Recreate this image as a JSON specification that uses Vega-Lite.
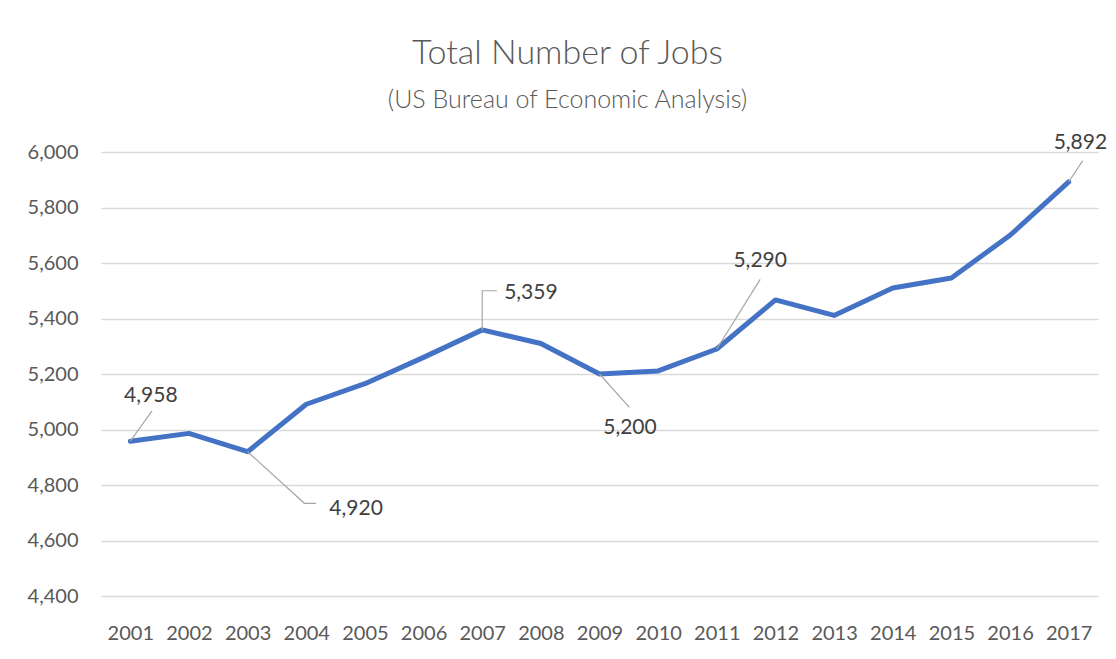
{
  "$schema": "https://vega.github.io/schema/vega-lite/v6.json",
  "autosize": {"type": "none"},
  "width": 997,
  "height": 444,
  "padding": {"left": 101, "top": 152, "right": 18, "bottom": 63},
  "background": "white",
  "config": {
    "font": "Lato",
    "view": {"stroke": null}
  },
  "title": {
    "text": "Total Number of Jobs",
    "subtitle": "(US Bureau of Economic Analysis)",
    "anchor": "middle",
    "dx": -32,
    "fontSize": 34,
    "fontWeight": 300,
    "font": "Lato",
    "color": "#595959",
    "subtitleFontSize": 25,
    "subtitleFontWeight": 300,
    "subtitleFont": "Lato",
    "subtitleColor": "#595959",
    "subtitlePadding": 17,
    "offset": 19
  },
  "datasets": {
    "jobs": [
      {"year": 2001, "jobs": 4958},
      {"year": 2002, "jobs": 4986},
      {"year": 2003, "jobs": 4920},
      {"year": 2004, "jobs": 5091},
      {"year": 2005, "jobs": 5165},
      {"year": 2006, "jobs": 5260},
      {"year": 2007, "jobs": 5359},
      {"year": 2008, "jobs": 5310},
      {"year": 2009, "jobs": 5200},
      {"year": 2010, "jobs": 5211},
      {"year": 2011, "jobs": 5290},
      {"year": 2012, "jobs": 5467},
      {"year": 2013, "jobs": 5411},
      {"year": 2014, "jobs": 5510},
      {"year": 2015, "jobs": 5546},
      {"year": 2016, "jobs": 5700},
      {"year": 2017, "jobs": 5892}
    ],
    "labels": [
      {"x": 2001.35, "y": 5121, "label": "4,958"},
      {"x": 2004.85, "y": 4713, "label": "4,920"},
      {"x": 2007.83, "y": 5492, "label": "5,359"},
      {"x": 2009.52, "y": 5005, "label": "5,200"},
      {"x": 2011.74, "y": 5607, "label": "5,290"},
      {"x": 2017.2, "y": 6032, "label": "5,892"}
    ],
    "leaders": [
      {"id": "a", "seq": 1, "x": 2001, "y": 4958},
      {"id": "a", "seq": 2, "x": 2001.37, "y": 5067},
      {"id": "b", "seq": 1, "x": 2003, "y": 4920},
      {"id": "b", "seq": 2, "x": 2003.968, "y": 4734},
      {"id": "b", "seq": 3, "x": 2004.167, "y": 4734},
      {"id": "c", "seq": 1, "x": 2007, "y": 5359},
      {"id": "c", "seq": 2, "x": 2007, "y": 5500},
      {"id": "c", "seq": 3, "x": 2007.25, "y": 5500},
      {"id": "d", "seq": 1, "x": 2009, "y": 5200},
      {"id": "d", "seq": 2, "x": 2009.51, "y": 5080},
      {"id": "e", "seq": 1, "x": 2011, "y": 5290},
      {"id": "e", "seq": 2, "x": 2011.74, "y": 5541},
      {"id": "f", "seq": 1, "x": 2017, "y": 5892},
      {"id": "f", "seq": 2, "x": 2017.24, "y": 5969}
    ]
  },
  "layer": [
    {
      "data": {"name": "jobs"},
      "mark": {"type": "line", "color": "#4472C4", "strokeWidth": 5, "strokeCap": "round", "strokeJoin": "round"},
      "encoding": {
        "x": {
          "field": "year", "type": "quantitative",
          "scale": {"domain": [2000.5, 2017.5], "nice": false, "zero": false},
          "axis": {
            "title": null, "values": [2001,2002,2003,2004,2005,2006,2007,2008,2009,2010,2011,2012,2013,2014,2015,2016,2017],
            "format": "d", "grid": false, "domain": false, "ticks": false,
            "labelFontSize": 20, "labelColor": "#595959", "labelPadding": 27, "labelFont": "Lato"
          }
        },
        "y": {
          "field": "jobs", "type": "quantitative",
          "scale": {"domain": [4400, 6000], "nice": false, "zero": false},
          "axis": {
            "title": null, "values": [4400,4600,4800,5000,5200,5400,5600,5800,6000],
            "format": ",.0f", "grid": true, "gridColor": "#d9d9d9", "gridWidth": 1.3,
            "domain": false, "ticks": false,
            "labelFontSize": 20, "labelColor": "#595959", "labelPadding": 23, "labelFont": "Lato"
          }
        }
      }
    },
    {
      "data": {"name": "leaders"},
      "mark": {"type": "line", "color": "#a6a6a6", "strokeWidth": 1.2, "clip": false},
      "encoding": {
        "x": {"field": "x", "type": "quantitative"},
        "y": {"field": "y", "type": "quantitative"},
        "detail": {"field": "id"},
        "order": {"field": "seq", "type": "quantitative"}
      }
    },
    {
      "data": {"name": "labels"},
      "mark": {"type": "text", "fontSize": 21, "color": "#404040", "align": "center", "baseline": "middle", "font": "Lato", "clip": false},
      "encoding": {
        "x": {"field": "x", "type": "quantitative"},
        "y": {"field": "y", "type": "quantitative"},
        "text": {"field": "label"}
      }
    }
  ]
}
